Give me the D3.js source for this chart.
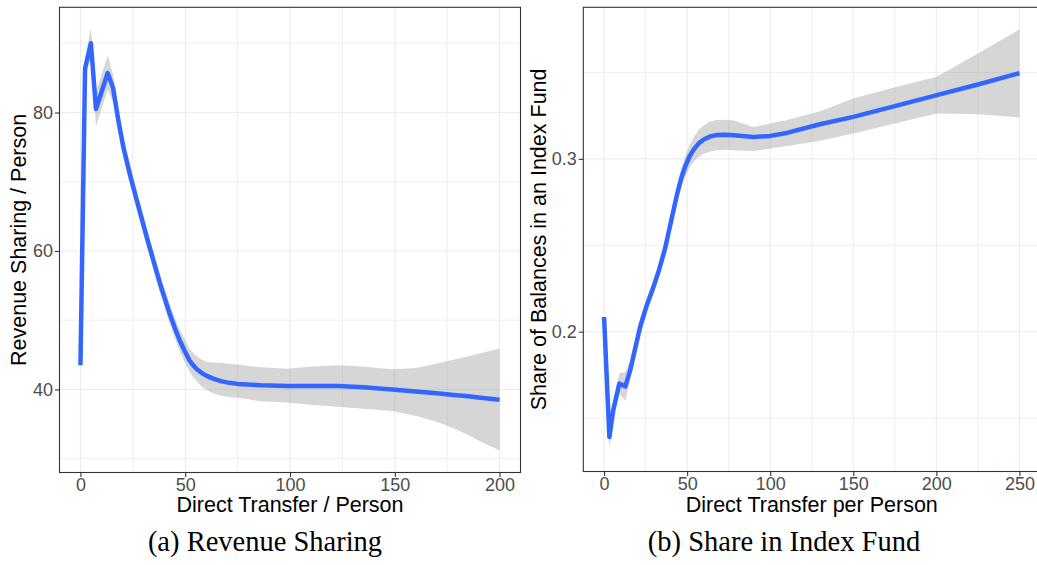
<!DOCTYPE html>
<html>
<head>
<meta charset="utf-8">
<script src="https://cdn.jsdelivr.net/npm/d3@7"></script>
<style>
  html, body { margin: 0; padding: 0; background: #fff; }
  svg { display: block; }
</style>
</head>
<body>
<svg id="chart" width="1037" height="565"></svg>
<script>
// ---------------- Data: panel (a) Revenue Sharing ----------------
const leftX  = [0, 2.2, 5.0, 7.4, 13.0, 15.6, 18, 20.4, 23.5, 26.8, 32, 37.9, 42.5, 45, 47.5, 50, 52, 54, 56, 58, 60, 63, 67, 71, 75, 86, 98.7, 110, 122.9, 135, 148.7, 160, 171.3, 178, 185, 192, 200];
const leftY  = [43.5, 86.4, 90.0, 80.5, 85.7, 83.5, 79.0, 75.1, 71.2, 67.4, 61.6, 55.35, 51.0, 48.9, 47.0, 45.4, 44.2, 43.4, 42.8, 42.35, 42.0, 41.6, 41.2, 40.95, 40.8, 40.6, 40.5, 40.5, 40.5, 40.3, 40.0, 39.7, 39.4, 39.2, 39.0, 38.75, 38.5];
const leftLo = [43.2, 85.0, 87.9, 78.0, 83.3, 81.5, 77.2, 73.5, 69.7, 66.0, 60.3, 54.0, 49.6, 47.4, 45.4, 43.8, 42.6, 41.7, 41.0, 40.4, 40.0, 39.5, 39.1, 38.9, 38.8, 38.3, 38.1, 37.8, 37.5, 37.2, 36.9, 36.2, 35.2, 34.4, 33.4, 32.3, 31.2];
const leftHi = [43.8, 87.8, 92.2, 83.0, 88.2, 85.5, 80.8, 76.7, 72.7, 68.8, 62.9, 56.7, 52.4, 50.4, 48.6, 47.1, 45.9, 45.2, 44.7, 44.3, 44.0, 43.9, 43.8, 43.7, 43.6, 43.2, 43.0, 43.3, 43.5, 43.3, 42.9, 43.1, 43.8, 44.3, 44.8, 45.3, 45.9];
const leftXTicks = [0, 50, 100, 150, 200];
const leftXMinor = [25, 75, 125, 175];
const leftYTicks = [40, 60, 80];
const leftYMinor = [30, 50, 70, 90];

// ---------------- Data: panel (b) Share in Index Fund ----------------
const rightX  = [0, 3.2, 5.6, 9.2, 12.8, 15.7, 21.7, 25.5, 29.7, 33, 36.7, 40, 43.8, 46.5, 49, 51.5, 54, 57, 60, 64, 68, 73, 78, 89.9, 100, 110, 130, 150, 175, 200.3, 225, 250];
const rightY  = [0.2085, 0.139, 0.155, 0.170, 0.1683, 0.1776, 0.2027, 0.2147, 0.2258, 0.2355, 0.248, 0.2625, 0.279, 0.289, 0.296, 0.3015, 0.3055, 0.309, 0.3112, 0.313, 0.3138, 0.314, 0.3137, 0.3127, 0.3133, 0.315, 0.320, 0.3243, 0.3305, 0.3369, 0.343, 0.3496];
const rightLo = [0.2075, 0.133, 0.150, 0.164, 0.160, 0.172, 0.198, 0.2105, 0.2218, 0.2315, 0.244, 0.2585, 0.274, 0.2835, 0.290, 0.295, 0.2985, 0.3012, 0.3029, 0.3043, 0.305, 0.3053, 0.305, 0.3046, 0.306, 0.3075, 0.3105, 0.3147, 0.3205, 0.3263, 0.3258, 0.324];
const rightHi = [0.2095, 0.145, 0.160, 0.176, 0.1766, 0.1836, 0.2077, 0.2189, 0.2298, 0.2395, 0.252, 0.2665, 0.284, 0.2945, 0.302, 0.308, 0.3125, 0.3168, 0.3195, 0.3217, 0.3225, 0.3227, 0.3222, 0.3185, 0.3205, 0.3225, 0.3275, 0.335, 0.3415, 0.3475, 0.361, 0.3749];
const rightXTicks = [0, 50, 100, 150, 200, 250];
const rightXMinor = [25, 75, 125, 175, 225];
const rightYTicks = [0.2, 0.3];
const rightYMinor = [0.15, 0.25, 0.35];

const svg = d3.select("#chart");
const SANS = "Liberation Sans, Arial, Helvetica, sans-serif";
const SERIF = "Liberation Serif, Times New Roman, serif";

function panel(cfg) {
  const { x, y, xs, ys, lo, hi, xTicks, xMinor, yTicks, yMinor, yFmt,
          xTitle, yTitle, yTitleX, caption, captionX } = cfg;
  const [x0, x1] = x.range();
  const [yb, yt] = y.range();
  const g = svg.append("g");

  const id = "clip" + Math.round(x0);
  svg.append("defs").append("clipPath").attr("id", id)
    .append("rect").attr("x", x0).attr("y", yt).attr("width", x1 - x0).attr("height", yb - yt);

  const grid = g.append("g").attr("clip-path", `url(#${id})`);
  grid.selectAll(".mx").data(xMinor).join("line")
    .attr("x1", d => x(d)).attr("x2", d => x(d)).attr("y1", yt).attr("y2", yb)
    .attr("stroke", "#EBEBEB").attr("stroke-width", 0.8);
  grid.selectAll(".my").data(yMinor).join("line")
    .attr("y1", d => y(d)).attr("y2", d => y(d)).attr("x1", x0).attr("x2", x1)
    .attr("stroke", "#EBEBEB").attr("stroke-width", 0.8);
  grid.selectAll(".Mx").data(xTicks).join("line")
    .attr("x1", d => x(d)).attr("x2", d => x(d)).attr("y1", yt).attr("y2", yb)
    .attr("stroke", "#EBEBEB").attr("stroke-width", 1.1);
  grid.selectAll(".My").data(yTicks).join("line")
    .attr("y1", d => y(d)).attr("y2", d => y(d)).attr("x1", x0).attr("x2", x1)
    .attr("stroke", "#EBEBEB").attr("stroke-width", 1.1);

  const pts = xs.map((d, i) => ({ x: d, y: ys[i], lo: lo[i], hi: hi[i] }));
  const area = d3.area().x(d => x(d.x)).y0(d => y(d.lo)).y1(d => y(d.hi)).curve(d3.curveLinear);
  const line = d3.line().x(d => x(d.x)).y(d => y(d.y)).curve(d3.curveLinear);

  grid.append("path").datum(pts).attr("d", area)
    .attr("fill", "#999999").attr("fill-opacity", 0.4);
  grid.append("path").datum(pts).attr("d", line)
    .attr("fill", "none").attr("stroke", "#3366FF").attr("stroke-width", 4.5)
    .attr("stroke-linejoin", "round").attr("stroke-linecap", "butt");

  g.append("rect").attr("x", x0).attr("y", yt).attr("width", x1 - x0).attr("height", yb - yt)
    .attr("fill", "none").attr("stroke", "#333333").attr("stroke-width", 1.1);

  const xAxis = d3.axisBottom(x).tickValues(xTicks).tickSize(4.5).tickPadding(2).tickFormat(d3.format("d"));
  const ax = g.append("g").attr("transform", `translate(0,${yb})`).call(xAxis);
  const yAxis = d3.axisLeft(y).tickValues(yTicks).tickSize(4.5).tickPadding(2).tickFormat(yFmt);
  const ay = g.append("g").attr("transform", `translate(${x0},0)`).call(yAxis);
  [ax, ay].forEach(a => {
    a.select(".domain").remove();
    a.selectAll(".tick line").attr("stroke", "#333333").attr("stroke-width", 1.1);
    a.selectAll(".tick text").attr("fill", "#4D4D4D")
      .style("font-family", SANS).style("font-size", "18px");
  });
  ax.selectAll(".tick text").attr("dy", null).attr("y", 0)
    .attr("transform", "translate(0,18)");

  svg.append("text").attr("x", (x0 + x1) / 2).attr("y", 512).attr("text-anchor", "middle")
    .style("font-family", SANS).style("font-size", "21.5px").attr("fill", "#000").text(xTitle);
  svg.append("text").attr("transform", `translate(${yTitleX},${(yt + yb) / 2}) rotate(-90)`)
    .attr("text-anchor", "middle")
    .style("font-family", SANS).style("font-size", "21.5px").attr("fill", "#000").text(yTitle);
  svg.append("text").attr("x", captionX).attr("y", 551).attr("text-anchor", "middle")
    .style("font-family", SERIF).style("font-size", "28.5px").attr("fill", "#000").text(caption);
}

panel({
  x: d3.scaleLinear().domain([-10, 210]).range([59.5, 520.5]),
  y: d3.scaleLinear().domain([28.0, 95.2]).range([472.5, 7.3]),
  xs: leftX, ys: leftY, lo: leftLo, hi: leftHi,
  xTicks: leftXTicks, xMinor: leftXMinor, yTicks: leftYTicks, yMinor: leftYMinor,
  yFmt: d3.format("d"),
  xTitle: "Direct Transfer / Person",
  yTitle: "Revenue Sharing / Person",
  yTitleX: 26,
  caption: "(a) Revenue Sharing", captionX: 265
});

panel({
  x: d3.scaleLinear().domain([-12.5, 262.5]).range([583.3, 1040.2]),
  y: d3.scaleLinear().domain([0.1191, 0.3877]).range([471.5, 7.3]),
  xs: rightX, ys: rightY, lo: rightLo, hi: rightHi,
  xTicks: rightXTicks, xMinor: rightXMinor, yTicks: rightYTicks, yMinor: rightYMinor,
  yFmt: d3.format(".1f"),
  xTitle: "Direct Transfer per Person",
  yTitle: "Share of Balances in an Index Fund",
  yTitleX: 546,
  caption: "(b) Share in Index Fund", captionX: 784
});
</script>
</body>
</html>
